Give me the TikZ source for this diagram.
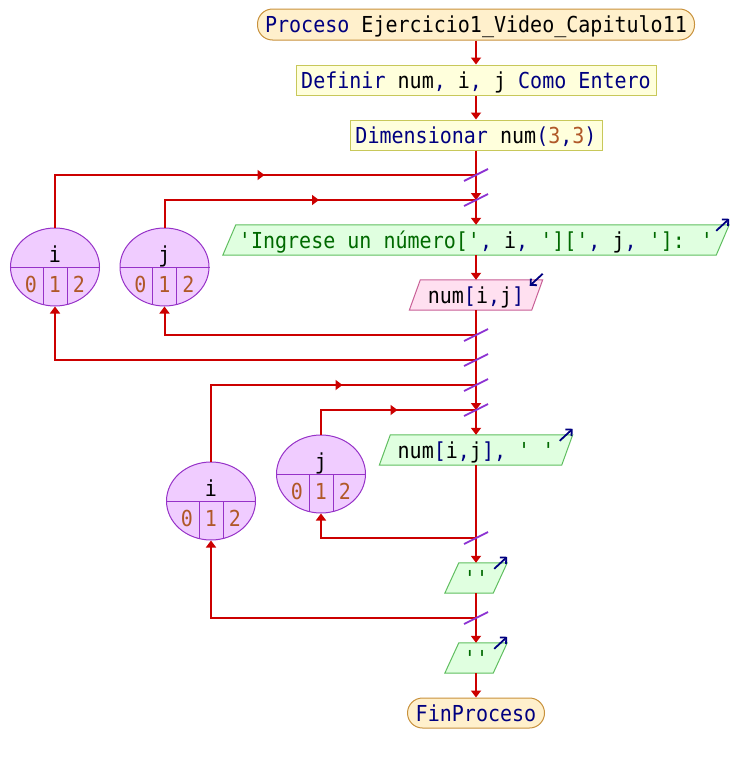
\documentclass[tikz,border=0pt]{standalone}
\usepackage{fontspec}
\newfontfamily\codefont{DejaVu Sans Mono}[FakeStretch=0.91]
\usetikzlibrary{arrows.meta,shapes.geometric,decorations.markings,calc}
\pgfdeclarelayer{bg}
\pgfsetlayers{bg,main}

% syntax colours
\definecolor{kwnavy}{RGB}{0,0,128}
\definecolor{strgreen}{RGB}{0,105,0}
\definecolor{numbrown}{RGB}{176,88,40}
% flowchart colours
\definecolor{flowred}{RGB}{204,0,0}
\definecolor{slashpurple}{RGB}{140,50,210}
\definecolor{termfill}{RGB}{255,240,204}
\definecolor{termborder}{RGB}{200,145,60}
\definecolor{procfill}{RGB}{255,255,220}
\definecolor{procborder}{RGB}{200,200,90}
\definecolor{outfill}{RGB}{224,255,224}
\definecolor{outborder}{RGB}{96,190,96}
\definecolor{infill}{RGB}{255,224,240}
\definecolor{inborder}{RGB}{200,96,150}
\definecolor{ellfill}{RGB}{240,204,255}
\definecolor{ellborder}{RGB}{150,50,200}

\newcommand\kwtxt[1]{\textcolor{kwnavy}{#1}}
\newcommand\strtxt[1]{\textcolor{strgreen}{#1}}
\newcommand\numtxt[1]{\textcolor{numbrown}{#1}}

% parallelogram behind an input/output node: node, half skew, fill, border
\newcommand\ioshape[4]{%
  \begin{pgfonlayer}{bg}
    \draw[fill=#3,draw=#4,line width=1pt]
      ([xshift=#2]#1.north west) -- ([xshift=#2]#1.north east) --
      ([xshift=-#2]#1.south east) -- ([xshift=-#2]#1.south west) -- cycle;
  \end{pgfonlayer}}
% small arrow at the upper right corner of an output node
\newcommand\outicon[2]{%
  \draw[iconarrow] ($(#1.north east)+({#2-13},6)$) -- ($(#1.north east)+(#2,-6)$);}
% small arrow at the upper right corner of an input node
\newcommand\inicon[2]{%
  \draw[iconarrow] ($(#1.north east)+(#2,-6)$) -- ($(#1.north east)+({#2-13},6)$);}
% loop counter: name, centre x, centre y, variable
\newcommand\varcell[4]{%
  \node[varell] (#1) at (#2,#3) {};
  \draw[cellline] (#1.west) -- (#1.east);
  \draw[cellline] ({#2-12},#3) -- ({#2-12},{#3+37.5});
  \draw[cellline] ({#2+12},#3) -- ({#2+12},{#3+37.5});
  \node[varname] (#1-n) at (#2,{#3-5}) {#4};
  \node[varidx] (#1-0) at ({#2-24},{#3+25}) {0};
  \node[varidx] (#1-1) at (#2,{#3+25}) {1};
  \node[varidx] (#1-2) at ({#2+24},{#3+25}) {2};}

\begin{document}
\begin{tikzpicture}[x=1pt,y=-1pt,
  font=\codefont\fontsize{22}{26}\selectfont,
  flow/.style={color=flowred,line width=2pt},
  tip/.style={-{Triangle[width=10pt,length=7pt]}},
  midtip/.style={postaction={decorate},decoration={markings,
      mark=at position #1 with {\arrow{Triangle[width=10pt,length=7pt]}}}},
  slash/.style={draw=slashpurple,line width=1.8pt},
  iconarrow/.style={draw=kwnavy,line width=1.8pt,-{Straight Barb[length=4.5pt,width=9pt]}},
  textbox/.style={inner sep=0pt,text height=16pt,text depth=0pt},
  term/.style={textbox,draw=termborder,fill=termfill,line width=1pt,
      rounded corners=15pt,minimum height=31pt},
  proc/.style={textbox,draw=procborder,fill=procfill,line width=1pt,minimum height=30pt},
  iobox/.style={textbox,minimum height=30pt},
  varell/.style={ellipse,draw=ellborder,fill=ellfill,line width=1pt,
      minimum width=89pt,minimum height=78pt,inner sep=0pt},
  cellline/.style={draw=ellborder,line width=1pt},
  varname/.style={anchor=base,inner sep=0pt},
  varidx/.style={anchor=base,inner sep=0pt,text=numbrown},
]
\useasboundingbox (0,0) rectangle (732,763);

% main column
\node[term,minimum width=437pt] (start) at (476,24.5)
  {\kwtxt{Proceso} Ejercicio1\_Video\_Capitulo11};
\node[proc,minimum width=360pt] (def) at (476,80)
  {\kwtxt{Definir} num\kwtxt{,} i\kwtxt{,} j \kwtxt{Como Entero}};
\node[proc,minimum width=252pt] (dim) at (476,135)
  {\kwtxt{Dimensionar} num\kwtxt{(}\numtxt{3}\kwtxt{,}\numtxt{3}\kwtxt{)}};
\node[iobox,minimum width=493pt] (ing) at (476,240)
  {\strtxt{'Ingrese un número['}\kwtxt{, }i\kwtxt{, }\strtxt{']['}\kwtxt{, }j\kwtxt{, }\strtxt{']: '}};
\node[iobox,minimum width=122pt] (leer) at (476,295)
  {num\kwtxt{[}i\kwtxt{,}j\kwtxt{]}};
\node[iobox,minimum width=182pt] (esc) at (476,450)
  {num\kwtxt{[}i\kwtxt{,}j\kwtxt{], }\strtxt{' '}};
\node[iobox,minimum width=48pt] (q1) at (476,578) {\strtxt{''}};
\node[iobox,minimum width=48pt] (q2) at (476,658) {\strtxt{''}};
\node[term,minimum width=137pt,minimum height=30pt] (fin) at (476,713) {\kwtxt{FinProceso}};

\ioshape{ing}{6.5}{outfill}{outborder}
\ioshape{leer}{5.5}{infill}{inborder}
\ioshape{esc}{5.5}{outfill}{outborder}
\ioshape{q1}{7}{outfill}{outborder}
\ioshape{q2}{7}{outfill}{outborder}

% loop counters
\varcell{vi1}{55}{267}{i}
\varcell{vj1}{164.5}{267}{j}
\varcell{vi2}{211}{501}{i}
\varcell{vj2}{321}{474}{j}

% junctions on the main column
\coordinate (ji1) at (476,175);
\coordinate (jj1) at (476,200);
\coordinate (ej1) at (476,335);
\coordinate (ei1) at (476,360);
\coordinate (ji2) at (476,385);
\coordinate (jj2) at (476,410);
\coordinate (ej2) at (476,538);
\coordinate (ei2) at (476,618);

% main flow
\draw[flow,tip] (start.south) -- (def.north);
\draw[flow,tip] (def.south) -- (dim.north);
\draw[flow] (dim.south) -- (ji1);
\draw[flow,tip] (ji1) -- (jj1);
\draw[flow,tip] (jj1) -- (ing.north);
\draw[flow,tip] (ing.south) -- (leer.north);
\draw[flow] (leer.south) -- (ej1) -- (ei1) -- (ji2);
\draw[flow,tip] (ji2) -- (jj2);
\draw[flow,tip] (jj2) -- (esc.north);
\draw[flow] (esc.south) -- (ej2);
\draw[flow,tip] (ej2) -- (q1.north);
\draw[flow] (q1.south) -- (ei2);
\draw[flow,tip] (ei2) -- (q2.north);
\draw[flow,tip] (q2.south) -- (fin.north);

% loop back edges
\draw[flow,midtip=262pt] (vi1.north) |- (ji1);
\draw[flow,midtip=182pt] (vj1.north) |- (jj1);
\draw[flow,tip] (ej1) -| (vj1.south);
\draw[flow,tip] (ei1) -| (vi1.south);
\draw[flow,midtip=208pt] (vi2.north) |- (ji2);
\draw[flow,midtip=101pt] (vj2.north) |- (jj2);
\draw[flow,tip] (ej2) -| (vj2.south);
\draw[flow,tip] (ei2) -| (vi2.south);

% loop markers
\foreach \j in {ji1,jj1,ej1,ei1,ji2,jj2,ej2,ei2}
  \draw[slash] ($(\j)+(-12,6)$) -- ($(\j)+(12,-6)$);

% input/output icons
\outicon{ing}{6.5}
\inicon{leer}{5.5}
\outicon{esc}{5.5}
\outicon{q1}{7}
\outicon{q2}{7}
\end{tikzpicture}
\end{document}
